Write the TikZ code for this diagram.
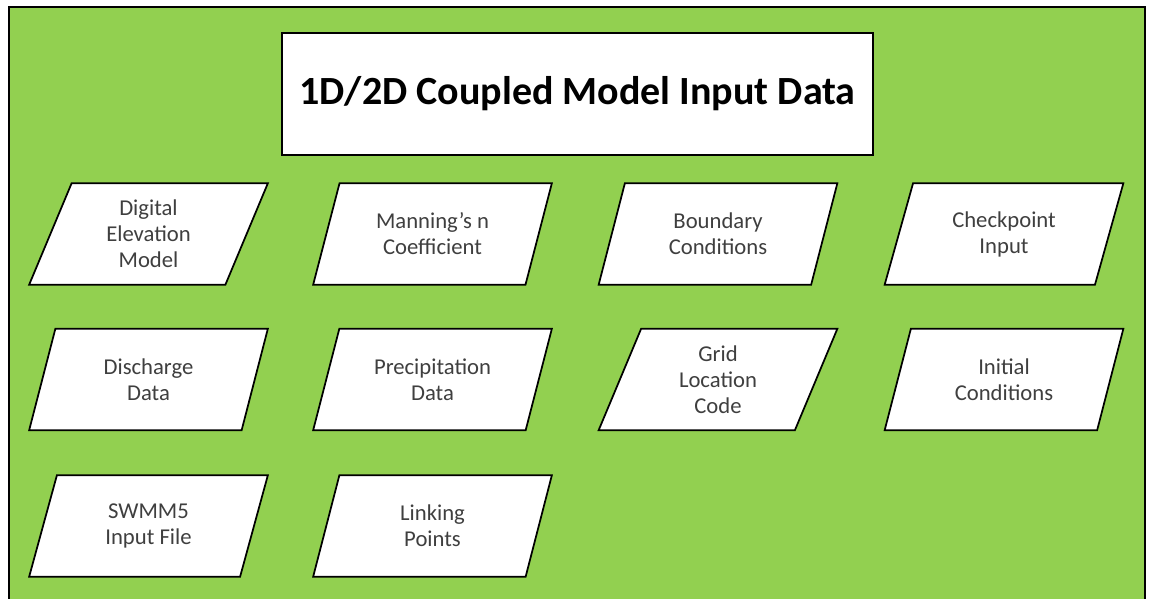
\documentclass[tikz,border=0pt]{standalone}
\usepackage{fontspec}
\setmainfont{Carlito}
\usetikzlibrary{shapes.geometric}
\definecolor{sheet_green}{HTML}{92D050}
\definecolor{label_grey}{HTML}{3F3F3F}

\tikzset{
  inputdata/.style={trapezium, trapezium left angle=58, trapezium right angle=122,
    trapezium stretches body, draw=black, line width=1.3pt, fill=white,
    minimum width=179pt, minimum height=76pt, inner sep=0pt, align=center,
    text=label_grey, font=\fontsize{17}{19.5}\selectfont},
  titlebox/.style={rectangle, draw=black, line width=1.3pt, fill=white,
    minimum width=443pt, minimum height=91pt, font=\fontsize{30}{36}\selectfont\bfseries}
}

\begin{document}
\begin{tikzpicture}[x=0.75pt,y=-0.75pt]
        \useasboundingbox (0,0) rectangle (1149,599);
        % Background sheet
        \draw[fill=sheet_green, line width=1.5pt] (9,7) rectangle (1145,630);
        % Title
        \node[titlebox] (title) at (577.5,94) {1D/2D Coupled Model Input Data};
        % First row
        \node[inputdata] (dem) at (148.5,234) {Digital\\Elevation\\Model};
        \node[inputdata] (manning) at (432.5,234) {Manning's n\\Coefficient};
        \node[inputdata] (boundary) at (718,234) {Boundary\\Conditions};
        \node[inputdata] (checkpoint) at (1004,234) {Checkpoint\\Input};
        % Second row
        \node[inputdata] (discharge) at (148.5,379.5) {Discharge\\Data};
        \node[inputdata] (precip) at (432.5,379.5) {Precipitation\\Data};
        \node[inputdata] (gridcode) at (718,379.5) {Grid\\Location\\Code};
        \node[inputdata] (initial) at (1004,379.5) {Initial\\Conditions};
        % Third row
        \node[inputdata] (swmm) at (148.5,526) {SWMM5\\Input File};
        \node[inputdata] (linking) at (432.5,526) {Linking\\Points};
\end{tikzpicture}
\end{document}
